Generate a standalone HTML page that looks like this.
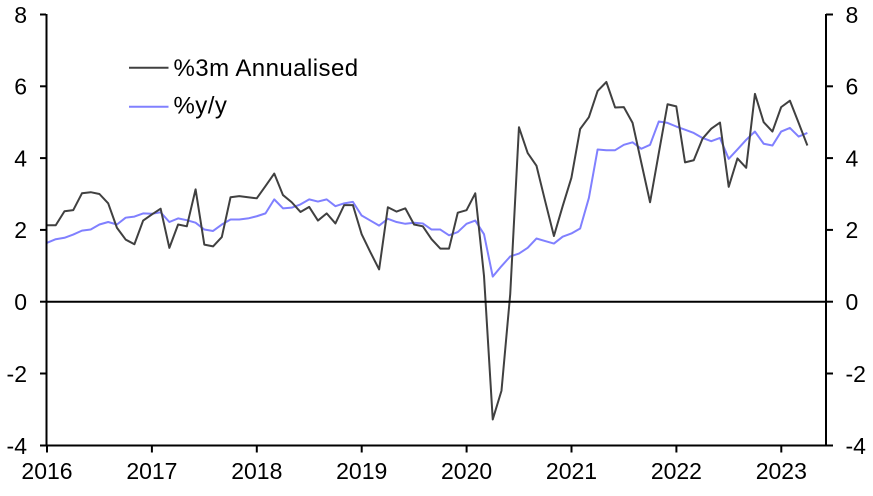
<!DOCTYPE html>
<html>
<head>
<meta charset="utf-8">
<style>
  html, body { margin:0; padding:0; background:#ffffff; }
  svg { display:block; }
  text { font-family: "Liberation Sans", Arial, sans-serif; font-size:23px; fill:#000; }
  text.leg { font-size:24px; letter-spacing:0.45px; }
</style>
</head>
<body>
<svg width="873" height="496" viewBox="0 0 873 496" xmlns="http://www.w3.org/2000/svg">
  <rect x="0" y="0" width="873" height="496" fill="#ffffff"/>

  <!-- series -->
  <g transform="translate(47,301.7) scale(8.74,-35.9)" fill="none" stroke-linejoin="round" stroke-linecap="butt">
    <polyline vector-effect="non-scaling-stroke" stroke="#8080ff" stroke-width="2"
      points="0,1.64 1,1.74 2,1.78 3,1.87 4,1.98 5,2.01 6,2.15 7,2.22 8,2.15 9,2.34 10,2.37 11,2.46 12,2.45 13,2.49 14,2.22 15,2.32 16,2.27 17,2.2 18,2.01 19,1.97 20,2.15 21,2.29 22,2.29 23,2.32 24,2.38 25,2.46 26,2.85 27,2.6 28,2.62 29,2.71 30,2.85 31,2.79 32,2.85 33,2.66 34,2.74 35,2.78 36,2.4 37,2.26 38,2.12 39,2.31 40,2.22 41,2.17 42,2.2 43,2.18 44,2.01 45,2.01 46,1.85 47,1.94 48,2.17 49,2.26 50,1.88 51,0.7 52,0.99 53,1.26 54,1.34 55,1.5 56,1.76 57,1.69 58,1.62 59,1.81 60,1.9 61,2.04 62,2.89 63,4.24 64,4.22 65,4.22 66,4.37 67,4.44 68,4.26 69,4.37 70,5.02 71,4.98 72,4.88 73,4.79 74,4.7 75,4.56 76,4.47 77,4.56 78,3.98 79,4.24 80,4.51 81,4.74 82,4.4 83,4.35 84,4.74 85,4.84 86,4.6 87,4.7"/>
    <polyline vector-effect="non-scaling-stroke" stroke="#404040" stroke-width="2"
      points="0,2.13 1,2.13 2,2.52 3,2.55 4,3.02 5,3.05 6,3.0 7,2.74 8,2.06 9,1.73 10,1.6 11,2.26 12,2.43 13,2.59 14,1.5 15,2.15 16,2.1 17,3.13 18,1.59 19,1.54 20,1.8 21,2.91 22,2.94 23,2.91 24,2.88 25,3.22 26,3.57 27,2.97 28,2.77 29,2.5 30,2.64 31,2.26 32,2.46 33,2.18 34,2.69 35,2.69 36,1.88 37,1.38 38,0.9 39,2.63 40,2.51 41,2.6 42,2.15 43,2.1 44,1.74 45,1.48 46,1.48 47,2.48 48,2.55 49,3.02 50,0.72 51,-3.28 52,-2.48 53,0.21 54,4.86 55,4.14 56,3.79 57,2.8 58,1.83 59,2.66 60,3.45 61,4.81 62,5.14 63,5.87 64,6.12 65,5.41 66,5.42 67,4.98 68,3.87 69,2.77 70,4.14 71,5.5 72,5.44 73,3.88 74,3.94 75,4.54 76,4.82 77,4.99 78,3.2 79,3.99 80,3.73 81,5.79 82,5.0 83,4.74 84,5.42 85,5.6 86,4.98 87,4.35"/>
  </g>

  <!-- zero line -->
  <line x1="46" y1="301.7" x2="826" y2="301.7" stroke="#000" stroke-width="2"/>

  <!-- axes -->
  <g stroke="#000" stroke-width="2" fill="none">
    <line x1="46.5" y1="14" x2="46.5" y2="446.5"/>
    <line x1="826" y1="14" x2="826" y2="446.5"/>
    <line x1="45.5" y1="445.5" x2="827" y2="445.5"/>
    <!-- left ticks -->
    <line x1="40" y1="14.5" x2="46" y2="14.5"/>
    <line x1="40" y1="86.3" x2="46" y2="86.3"/>
    <line x1="40" y1="158.1" x2="46" y2="158.1"/>
    <line x1="40" y1="229.9" x2="46" y2="229.9"/>
    <line x1="40" y1="301.7" x2="46" y2="301.7"/>
    <line x1="40" y1="373.5" x2="46" y2="373.5"/>
    <line x1="40" y1="445.5" x2="46" y2="445.5"/>
    <!-- right ticks -->
    <line x1="826" y1="14.5" x2="833" y2="14.5"/>
    <line x1="826" y1="86.3" x2="833" y2="86.3"/>
    <line x1="826" y1="158.1" x2="833" y2="158.1"/>
    <line x1="826" y1="229.9" x2="833" y2="229.9"/>
    <line x1="826" y1="301.7" x2="833" y2="301.7"/>
    <line x1="826" y1="373.5" x2="833" y2="373.5"/>
    <line x1="826" y1="445.5" x2="833" y2="445.5"/>
    <!-- x ticks -->
    <line x1="47" y1="445" x2="47" y2="452.5"/>
    <line x1="151.9" y1="445" x2="151.9" y2="452.5"/>
    <line x1="256.8" y1="445" x2="256.8" y2="452.5"/>
    <line x1="361.7" y1="445" x2="361.7" y2="452.5"/>
    <line x1="466.6" y1="445" x2="466.6" y2="452.5"/>
    <line x1="571.5" y1="445" x2="571.5" y2="452.5"/>
    <line x1="676.4" y1="445" x2="676.4" y2="452.5"/>
    <line x1="781.3" y1="445" x2="781.3" y2="452.5"/>
  </g>

  <!-- left labels -->
  <g text-anchor="end">
    <text x="27" y="22.8">8</text>
    <text x="27" y="94.6">6</text>
    <text x="27" y="166.4">4</text>
    <text x="27" y="238.2">2</text>
    <text x="27" y="310">0</text>
    <text x="27" y="381.8">-2</text>
    <text x="27" y="453.8">-4</text>
  </g>
  <!-- right labels -->
  <g text-anchor="start">
    <text x="845.5" y="22.8">8</text>
    <text x="845.5" y="94.6">6</text>
    <text x="845.5" y="166.4">4</text>
    <text x="845.5" y="238.2">2</text>
    <text x="845.5" y="310">0</text>
    <text x="845.5" y="381.8">-2</text>
    <text x="845.5" y="453.8">-4</text>
  </g>
  <!-- x labels -->
  <g text-anchor="middle">
    <text x="47" y="479">2016</text>
    <text x="151.9" y="479">2017</text>
    <text x="256.8" y="479">2018</text>
    <text x="361.7" y="479">2019</text>
    <text x="466.6" y="479">2020</text>
    <text x="571.5" y="479">2021</text>
    <text x="676.4" y="479">2022</text>
    <text x="781.3" y="479">2023</text>
  </g>

  <!-- legend -->
  <line x1="129" y1="67.7" x2="168.5" y2="67.7" stroke="#404040" stroke-width="2"/>
  <text class="leg" x="173.5" y="76">%3m Annualised</text>
  <line x1="129" y1="106.7" x2="168.5" y2="106.7" stroke="#8080ff" stroke-width="2"/>
  <text class="leg" x="173.5" y="113.5">%y/y</text>
</svg>
</body>
</html>
